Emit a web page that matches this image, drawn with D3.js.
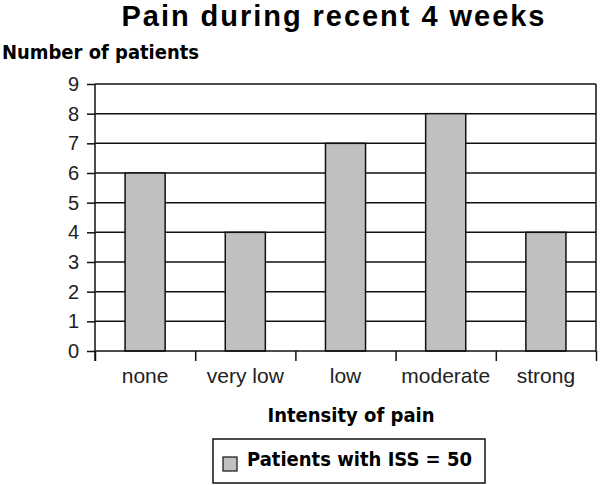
<!DOCTYPE html>
<html>
<head>
<meta charset="utf-8">
<script src="https://cdn.jsdelivr.net/npm/d3@7"></script>
<style>
  body { margin: 0; background: #fff; }
</style>
</head>
<body>
<svg id="chart" width="600" height="485"></svg>
<script>
const categories = ["none", "very low", "low", "moderate", "strong"];
const values = [6, 4, 7, 8, 4];
const yTicks = [0, 1, 2, 3, 4, 5, 6, 7, 8, 9];
const seriesName = "Patients with ISS = 50";

const svg = d3.select("#chart"),
      margin = { top: 84, right: 4, bottom: 134, left: 95 },
      width = +svg.attr("width"),
      height = +svg.attr("height");

const labelFont = "DejaVu Sans Condensed, DejaVu Sans, Tahoma, sans-serif";
const tickFont = "Liberation Sans, Arial, sans-serif";

const x = d3.scaleBand()
  .domain(categories)
  .range([margin.left, width - margin.right])
  .padding(0);

const y = d3.scaleLinear()
  .domain([0, 9])
  .range([height - margin.bottom, margin.top]);

// gridlines
svg.append("g")
  .selectAll("line")
  .data(yTicks.slice(1))
  .enter().append("line")
  .attr("x1", margin.left)
  .attr("x2", width - margin.right)
  .attr("y1", d => y(d))
  .attr("y2", d => y(d))
  .attr("stroke", "#111")
  .attr("stroke-width", 1.5);

// right border
svg.append("line")
  .attr("x1", width - margin.right).attr("x2", width - margin.right)
  .attr("y1", y(9)).attr("y2", y(0))
  .attr("stroke", "#111").attr("stroke-width", 1.5);

// bars
const bw = x.bandwidth();
svg.append("g")
  .selectAll("rect")
  .data(categories.map((c, i) => ({ c, v: values[i] })))
  .enter().append("rect")
  .attr("x", d => x(d.c) + bw * 0.3)
  .attr("width", bw * 0.4)
  .attr("y", d => y(d.v))
  .attr("height", d => y(0) - y(d.v))
  .attr("fill", "#c0c0c0")
  .attr("stroke", "#111")
  .attr("stroke-width", 1.5);

// y axis
const yAxis = svg.append("g")
  .attr("transform", `translate(${margin.left},0)`)
  .call(d3.axisLeft(y).tickValues(yTicks).tickSize(8).tickPadding(8));
yAxis.select(".domain").attr("stroke", "#111").attr("stroke-width", 1.5)
  .attr("d", `M0,${y(9)}V${y(0) + 10}`);
yAxis.selectAll(".tick line").attr("stroke", "#111").attr("stroke-width", 1.5);
yAxis.selectAll("text")
  .attr("font-family", tickFont)
  .attr("font-size", "20px")
  .attr("fill", "#222");

// x axis: tick marks at category boundaries
const xb = d3.scaleLinear().domain([0, categories.length])
  .range([margin.left, width - margin.right]);
const xAxis = svg.append("g")
  .attr("transform", `translate(0,${y(0)})`)
  .call(d3.axisBottom(xb).ticks(categories.length).tickSize(10).tickFormat(""));
xAxis.select(".domain").attr("stroke", "#111").attr("stroke-width", 1.5)
  .attr("d", `M${margin.left},0H${width - margin.right}`);
xAxis.selectAll(".tick line").attr("stroke", "#111").attr("stroke-width", 1.5);

// category labels
const xLab = svg.append("g")
  .attr("transform", `translate(0,${y(0)})`)
  .call(d3.axisBottom(x).tickSize(0).tickPadding(17));
xLab.select(".domain").remove();
xLab.selectAll("text")
  .attr("font-family", tickFont)
  .attr("font-size", "21px")
  .attr("fill", "#222");

// title
svg.append("text")
  .attr("x", 333)
  .attr("y", 26)
  .attr("text-anchor", "middle")
  .attr("font-family", tickFont)
  .attr("font-weight", "bold")
  .attr("font-size", "29px")
  .attr("textLength", 423)
  .attr("lengthAdjust", "spacing")
  .text("Pain during recent 4 weeks");

// axis titles
svg.append("text")
  .attr("x", 2)
  .attr("y", 59)
  .attr("font-family", labelFont)
  .attr("font-weight", "bold")
  .attr("font-size", "20px")
  .attr("textLength", 197)
  .attr("lengthAdjust", "spacingAndGlyphs")
  .text("Number of patients");

svg.append("text")
  .attr("x", 351)
  .attr("y", 422)
  .attr("text-anchor", "middle")
  .attr("font-family", labelFont)
  .attr("font-weight", "bold")
  .attr("font-size", "20px")
  .text("Intensity of pain");

// legend
const legend = svg.append("g").attr("transform", "translate(213,439)");
legend.append("rect")
  .attr("width", 272).attr("height", 44)
  .attr("fill", "#fff").attr("stroke", "#111").attr("stroke-width", 1.5);
legend.append("rect")
  .attr("x", 10).attr("y", 18).attr("width", 14).attr("height", 14)
  .attr("fill", "#c0c0c0").attr("stroke", "#111").attr("stroke-width", 1.2);
legend.append("text")
  .attr("x", 34).attr("y", 27)
  .attr("font-family", labelFont)
  .attr("font-weight", "bold")
  .attr("font-size", "20px")
  .attr("textLength", 225)
  .attr("lengthAdjust", "spacingAndGlyphs")
  .text(seriesName);
</script>
</body>
</html>
